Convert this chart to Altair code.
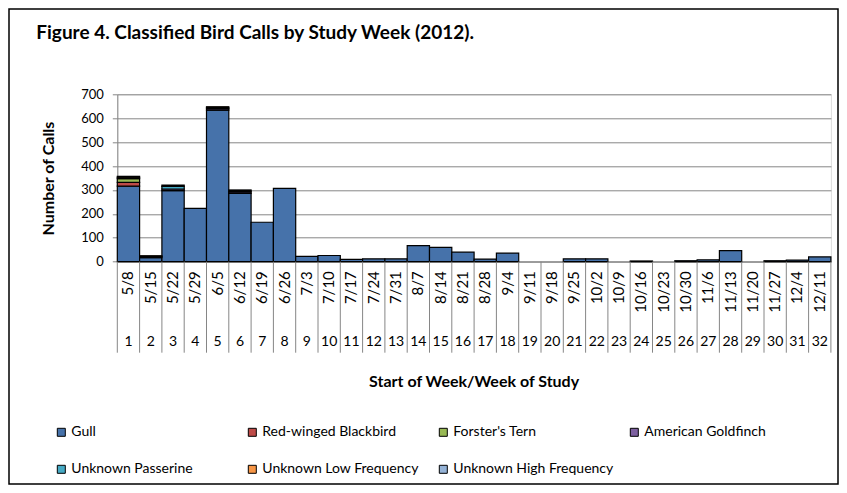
import altair as alt
import pandas as pd

dates = ["5/8", "5/15", "5/22", "5/29", "6/5", "6/12", "6/19", "6/26", "7/3", "7/10",
         "7/17", "7/24", "7/31", "8/7", "8/14", "8/21", "8/28", "9/4", "9/11", "9/18",
         "9/25", "10/2", "10/9", "10/16", "10/23", "10/30", "11/6", "11/13", "11/20",
         "11/27", "12/4", "12/11"]
weeks = [str(i) for i in range(1, 33)]

species = ["Gull", "Red-winged Blackbird", "Forster's Tern", "American Goldfinch",
           "Unknown Passerine", "Unknown Low Frequency", "Unknown High Frequency"]
colors = ["#4672AA", "#BE4B48", "#98B954", "#7D60A0", "#46AAC5", "#F79646", "#95B3D7"]

gull = [316, 17, 297, 223, 634, 286, 165, 307, 22, 26, 10, 12, 12, 67, 60, 40,
        11, 36, 0, 0, 12, 12, 0, 3, 0, 4, 8, 46, 0, 4, 7, 20]
red_winged = [16] + [0] * 31
forsters = [15] + [0] * 31
goldfinch = [6, 4, 7, 0, 6, 6] + [0] * 26
passerine = [0, 0, 11, 0, 4, 0] + [0] * 26
low_freq = [4, 4, 0, 0, 4, 4] + [0] * 26
high_freq = [0, 0, 5, 0, 0, 4] + [0] * 26

series = [gull, red_winged, forsters, goldfinch, passerine, low_freq, high_freq]

rows = []
for si, (name, vals) in enumerate(zip(species, series)):
    for d, w, v in zip(dates, weeks, vals):
        if v > 0:
            rows.append({"date": d, "week": w, "species": name, "value": v, "order": si})
df = pd.DataFrame(rows)
cats = pd.DataFrame({"date": dates, "week": weeks})
one = pd.DataFrame({"a": [0]})

W = 713.6
H = 167.4
GRID = "#868686"
FONT = "Lato"

xscale = alt.Scale(domain=dates, paddingInner=0, paddingOuter=0)

bars = alt.Chart(df).mark_bar(stroke="black", strokeWidth=1.2).encode(
    x=alt.X("date:N", scale=xscale, sort=dates,
            axis=alt.Axis(title=None, labelAngle=270, labelFont=FONT, labelFontSize=15,
                          labelColor="black", ticks=False, labelPadding=9,
                          domainColor=GRID, labelOverlap=False)),
    y=alt.Y("value:Q", stack="zero", scale=alt.Scale(domain=[0, 700], nice=False),
            axis=alt.Axis(values=[0, 100, 200, 300, 400, 500, 600, 700], grid=True,
                          gridColor=GRID, domainColor=GRID, tickColor=GRID, tickSize=5,
                          labelFont=FONT, labelFontSize=13, labelColor="black",
                          labelPadding=9, title="Number of Calls", titleFont=FONT,
                          titleFontSize=16, titleFontWeight="bold", titleColor="black",
                          titleX=-69, titleY=H / 2, titleAngle=270,
                          titleAlign="center", titleBaseline="middle")),
    color=alt.Color("species:N", scale=alt.Scale(domain=species, range=colors),
                    legend=alt.Legend(orient="none", legendX=-63, legendY=331, columns=4,
                                      direction="horizontal",
                                      gridAlign="all", columnPadding=14, rowPadding=23,
                                      symbolType="square", symbolSize=64,
                                      symbolStrokeColor="black", symbolStrokeWidth=1,
                                      labelFont=FONT, labelFontSize=14, labelColor="black",
                                      labelOffset=3, title=None, symbolOpacity=1)),
    order=alt.Order("order:Q"),
)

seps = alt.Chart(cats).mark_rule(color=GRID, strokeWidth=1).encode(
    x=alt.X("date:N", scale=xscale, sort=dates, bandPosition=0),
    y=alt.value(H),
    y2=alt.value(H + 91),
)
sep_end = alt.Chart(one).mark_rule(color=GRID, strokeWidth=1).encode(
    x=alt.value(W), y=alt.value(H), y2=alt.value(H + 91)
)

week_text = alt.Chart(cats).mark_text(font=FONT, fontSize=14, color="black",
                                      baseline="middle").encode(
    x=alt.X("date:N", scale=xscale, sort=dates),
    y=alt.value(247.7),
    text="week:N",
)

title = alt.Chart(one).mark_text(font=FONT, fontSize=19, fontWeight="bold", color="black",
                                 align="left", baseline="middle").encode(
    x=alt.value(-81), y=alt.value(-61), text=alt.value("Figure 4. Classified Bird Calls by Study Week (2012).")
)
xtitle = alt.Chart(one).mark_text(font=FONT, fontSize=16, fontWeight="bold", color="black",
                                  align="center", baseline="middle").encode(
    x=alt.value(W / 2), y=alt.value(287.2), text=alt.value("Start of Week/Week of Study")
)
frame = alt.Chart(one).mark_rect(filled=False, stroke="black", strokeWidth=1.5).encode(
    x=alt.value(-108.3), x2=alt.value(720.7), y=alt.value(-85.3), y2=alt.value(389.7)
)

chart = alt.layer(frame, bars, seps, sep_end, week_text, title, xtitle).properties(
    width=W, height=H,
    autosize=alt.AutoSizeParams(type="none"),
    padding={"left": 109.3, "top": 86.3, "right": 8.1, "bottom": 223.3},
).configure_view(stroke=None).configure(background="white", font=FONT)

chart.save("out.html", embed_options={"renderer": "svg", "actions": False})
